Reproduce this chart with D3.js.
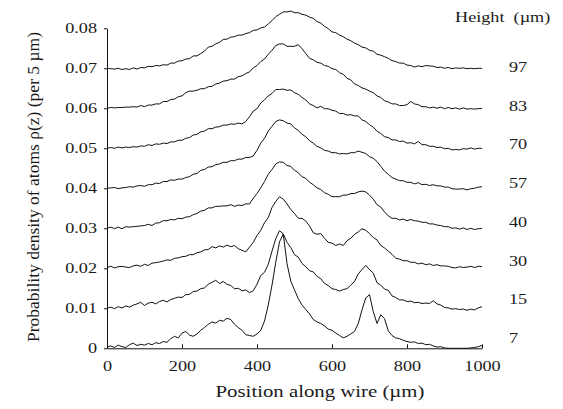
<!DOCTYPE html>
<html>
<head>
<meta charset="utf-8">
<script src="https://cdn.jsdelivr.net/npm/d3@7"></script>
<style>
body { margin: 0; background: #fff; }
</style>
</head>
<body>
<div id="chart"></div>
<script>
/* atom density along the wire, one offset curve per height */

const heights = ["7", "15", "30", "40", "57", "70", "83", "97"]; // height above wire, µm
const offsets = [0, 0.01, 0.02, 0.03, 0.04, 0.05, 0.06, 0.07]; // vertical shift of each curve
const yTicks = [0, 0.01, 0.02, 0.03, 0.04, 0.05, 0.06, 0.07, 0.08];
const xTicks = [0, 200, 400, 600, 800, 1000];
const position = d3.range(0, 1001, 10); // sample points, µm

// density, units of 1e-4 per 5 µm (before offset)
const rho7 = [3,6,2,8,4,2,9,13,7,10, 8,12,9,14,12,17,15,24,30,26, 38,42,33,30,36,45,52,60,66,63,
    70,68,75,72,60,52,45,34,32,30, 36,45,68,108,158,215,266,286,212,168, 146,124,108,97,86,72,66,62,56,48,
    45,38,32,26,30,36,42,62,96,126, 134,92,62,84,74,44,32,26,24,20, 17,15,16,12,13,9,10,6,3,4,
    1,0,0,0,0,0,0,1,2,4, 7];
const rho15 = [0,3,-1,4,1,6,3,8,11,15, 7,13,15,11,17,20,16,22,25,28, 27,34,35,42,43,49,51,60,65,70,
    62,67,60,57,49,50,44,46,39,44, 60,82,90,110,143,174,194,186,165,152, 134,128,112,104,94,91,80,74,62,57,
    49,47,43,47,49,58,67,86,97,107, 97,88,64,58,48,45,31,27,21,21, 17,18,14,15,12,13,12,19,11,8,
    2,1,-2,-1,-3,-2,-5,-2,-4,1, 4];
const rho30 = [2,5,1,4,5,3,2,6,8,5, 10,7,13,14,16,18,21,20,25,26, 29,30,34,34,39,41,46,47,54,51,
    56,53,58,54,57,49,45,41,53,65, 82,95,114,127,152,167,179,173,161,147, 137,125,125,118,106,89,85,87,75,65,
    63,57,61,57,69,75,85,91,99,95, 87,77,71,57,51,43,35,25,23,19, 19,15,15,11,13,9,11,7,9,6,
    6,5,2,1,4,2,3,5,2,5, 4];
const rho40 = [0,3,-1,3,-1,4,3,4,5,6, 7,10,7,13,14,19,19,22,21,25, 24,28,29,34,37,43,45,51,51,55,
    55,56,56,59,55,58,57,61,61,75, 87,101,117,135,147,161,166,165,157,155, 145,139,129,125,115,109,101,97,89,85,
    79,79,79,83,83,87,87,91,93,91, 83,73,59,53,41,31,25,25,21,23, 19,22,19,18,15,15,11,11,8,7,
    4,4,0,1,-2,1,-3,0,-3,-1, 0];
const rho57 = [0,1,2,-1,1,2,4,3,6,7, 5,9,9,13,12,17,17,21,20,23, 23,27,29,35,37,45,47,53,54,59,
    61,65,65,69,69,73,73,77,77,81, 95,113,125,143,155,167,171,169,163,161, 151,145,135,129,119,113,105,101,95,93,
    89,89,86,87,86,89,89,93,90,87, 79,75,67,55,43,35,27,23,19,19, 15,15,11,14,9,10,7,9,6,6,
    3,3,-1,-2,-2,-1,-4,-1,0,3, 4];
const rho70 = [0,2,0,3,1,3,2,4,3,6, 5,9,7,11,10,13,12,16,16,20, 20,25,27,33,35,41,43,49,49,53,
    54,58,58,61,60,63,61,67,79,93, 99,113,121,131,137,147,147,148,145,146, 139,135,127,121,111,107,101,105,99,99,
    95,93,87,87,83,84,81,81,71,67, 59,53,43,37,29,27,21,21,17,18, 13,14,11,17,9,9,5,5,2,3,
    -1,0,-4,-3,-4,-1,-2,1,-2,0, 0];
const rho83 = [0,2,1,2,2,3,3,4,3,7, 4,8,8,11,11,17,17,22,23,29, 31,39,43,43,45,49,49,54,55,61,
    63,68,69,73,73,79,81,87,91,101, 107,117,123,135,145,157,161,161,155,155, 155,159,149,137,125,121,115,113,107,105,
    99,97,89,85,75,71,61,57,51,48, 43,39,31,27,19,16,11,11,7,7, 9,17,11,9,4,4,1,3,0,3,
    -1,2,-1,1,-2,1,-2,-1,-2,-1, 0];
const rho97 = [0,-1,-2,0,-3,-1,-3,1,-2,2, 1,5,4,7,6,9,8,13,13,18, 19,23,24,31,31,37,43,53,55,61,
    65,72,73,78,79,83,83,87,89,95, 96,101,103,111,119,129,135,141,141,143, 139,139,135,133,128,125,117,113,105,99,
    91,89,83,79,73,69,63,59,53,51, 45,43,35,33,29,25,19,17,13,13, 8,7,3,6,4,7,6,5,2,3,
    0,2,-1,1,0,1,-1,0,-1,0, 0];

const profiles = [rho7, rho15, rho30, rho40, rho57, rho70, rho83, rho97];

const series = heights.map((h, i) => ({
    height: h,
    offset: offsets[i],
    points: position.map((p, j) => ({x: p, y: offsets[i] + profiles[i][j] * 1e-4}))
}));

const width = 563, height = 409;
const stretch = 1.3; // the figure's lettering is wider than tall
const serif = '"Liberation Serif"';

const svg = d3.select("#chart")
    .append("svg")
    .attr("width", width)
    .attr("height", height);

const x = d3.scaleLinear()
    .domain([0, 1000])
    .range([107, 482]);

const y = d3.scaleLinear()
    .domain([0, 0.08])
    .range([348.3, 28.3]);

// x axis, ticks point up into the plot
const gx = svg.append("g")
    .attr("transform", `translate(0,${y(0)})`)
    .call(d3.axisBottom(x).tickValues(xTicks).tickFormat(d3.format("d"))
        .tickSizeInner(-4).tickSizeOuter(0).tickPadding(13));

// y axis
const gy = svg.append("g")
    .attr("transform", `translate(${x(0)},0)`)
    .call(d3.axisLeft(y).tickValues(yTicks).tickFormat(d => d === 0 ? "0" : d3.format(".2f")(d))
        .tickSizeInner(3).tickSizeOuter(0).tickPadding(7));

[gx, gy].forEach(g => {
    g.selectAll("path, line").attr("stroke", "#111");
    g.selectAll("text")
        .style("font-family", serif)
        .attr("font-size", 14)
        .attr("fill", "#1a1a1a");
});
gx.selectAll("text").attr("transform", `scale(${stretch},1)`);
gy.selectAll("text").attr("x", -10 / stretch).attr("transform", `scale(${stretch},1)`);

// curves
const line = d3.line()
    .x(d => x(d.x))
    .y(d => y(d.y));

svg.selectAll(".curve")
    .data(series)
    .join("path")
    .attr("class", "curve")
    .attr("fill", "none")
    .attr("stroke", "#111")
    .attr("stroke-width", 1)
    .attr("d", d => line(d.points));

// height labels on the right
const labelY = d3.scalePoint()
    .domain(heights.slice().reverse())
    .range([72, 343]);

svg.selectAll(".hlabel")
    .data(series)
    .join("text")
    .attr("class", "hlabel")
    .attr("transform", d => `translate(509,${labelY(d.height)}) scale(${stretch},1)`)
    .style("font-family", serif)
    .attr("font-size", 14)
    .attr("fill", "#1a1a1a")
    .text(d => d.height);

svg.append("text")
    .attr("transform", `translate(455,22) scale(${stretch},1)`)
    .style("font-family", serif)
    .attr("font-size", 14)
    .attr("fill", "#1a1a1a")
    .text("Height\u00a0 (\u00b5m)");

// axis titles
svg.append("text")
    .attr("transform", `translate(320,397) scale(${stretch},1)`)
    .attr("text-anchor", "middle")
    .style("font-family", serif)
    .attr("font-size", 16)
    .attr("fill", "#1a1a1a")
    .text("Position along wire (\u00b5m)");

svg.append("text")
    .attr("transform", "translate(39,187) rotate(-90)")
    .attr("text-anchor", "middle")
    .style("font-family", serif)
    .attr("font-size", 16)
    .attr("fill", "#1a1a1a")
    .attr("textLength", 310)
    .attr("lengthAdjust", "spacingAndGlyphs")
    .text("Probability density of atoms \u03c1(z) (per 5 \u00b5m)");
</script>
</body>
</html>
